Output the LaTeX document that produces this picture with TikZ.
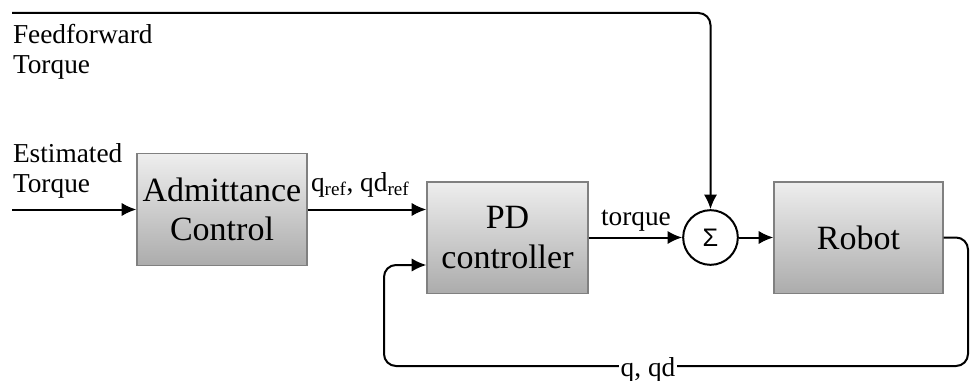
\documentclass[tikz,border=0pt]{standalone}
\usepackage{fontspec}
\setmainfont{Liberation Serif}
\newfontfamily\sumfont{Liberation Sans}
\usetikzlibrary{arrows.meta,positioning}

\tikzset{every picture/.style={line width=1.5pt}}
\tikzset{
  blockbox/.style={draw={rgb, 255:red, 128; green, 128; blue, 128}, line width=1pt,
    top color={rgb, 255:red, 238; green, 238; blue, 238},
    bottom color={rgb, 255:red, 172; green, 172; blue, 172},
    minimum height=83.5pt, align=center, inner sep=0pt,
    font=\fontsize{25.5}{29.5}\selectfont},
  sumnode/.style={draw, circle, minimum size=41pt, inner sep=0pt, fill=white,
    font=\sumfont\fontsize{19}{22}\selectfont},
  sigline/.style={-{Latex[length=11pt,width=10pt]}},
  lbl/.style={font=\fontsize{20.5}{22.5}\selectfont, inner sep=0pt}
}

\begin{document}
\begin{tikzpicture}[x=0.75pt,y=0.75pt,yscale=-1,xscale=1]
	\useasboundingbox (0,0) rectangle (970,381);

	%Shape: Blocks
	\node [blockbox, minimum width=127.5pt] (adm) at (222,209.5) {Admittance\\Control};
	\node [blockbox, minimum width=120.75pt] (pd) at (507.5,237.5) {PD\\controller};
	\node [sumnode] (sum) at (710.5,237.5) {Σ};
	\node [blockbox, minimum width=126.75pt] (robot) at (858.5,237.5) {Robot};

	%Coordinates for free ends
	\coordinate (in) at (12,209.5);
	\coordinate (ff) at (12,13);
	\coordinate (fbr) at (968,366);
	\coordinate (fbl) at (384,265);

	%Straight Lines
	\draw [sigline] (in) -- (adm.west);
	\draw [sigline] (adm.east) -- (adm.east -| pd.west);
	\draw [sigline] (pd.east |- sum) -- (sum.west);
	\draw [sigline] (sum.east) -- (sum.east -| robot.west);
	\draw [sigline, rounded corners=9pt] (ff) -| (sum.north);
	\draw [sigline, rounded corners=9pt] (robot.east |- sum) -| (fbr) -| (fbl) -- (fbl -| pd.west);

	% Text Node
	\node [lbl, anchor=base west, align=left] (fflbl) at (12,74) {Feedforward\\Torque};
	% Text Node
	\node [lbl, anchor=base west, align=left] (estlbl) at (12,192) {Estimated\\Torque};
	% Text Node
	\node [lbl, anchor=base west] (reflbl) at (310,191) {q\textsubscript{ref}, qd\textsubscript{ref}};
	% Text Node
	\node [lbl, anchor=base west] (tqlbl) at (600,225) {torque};
	% Text Node
	\node [lbl, anchor=base, fill=white, inner xsep=1pt] (fblbl) at (648,376) {q, qd};

\end{tikzpicture}
\end{document}
